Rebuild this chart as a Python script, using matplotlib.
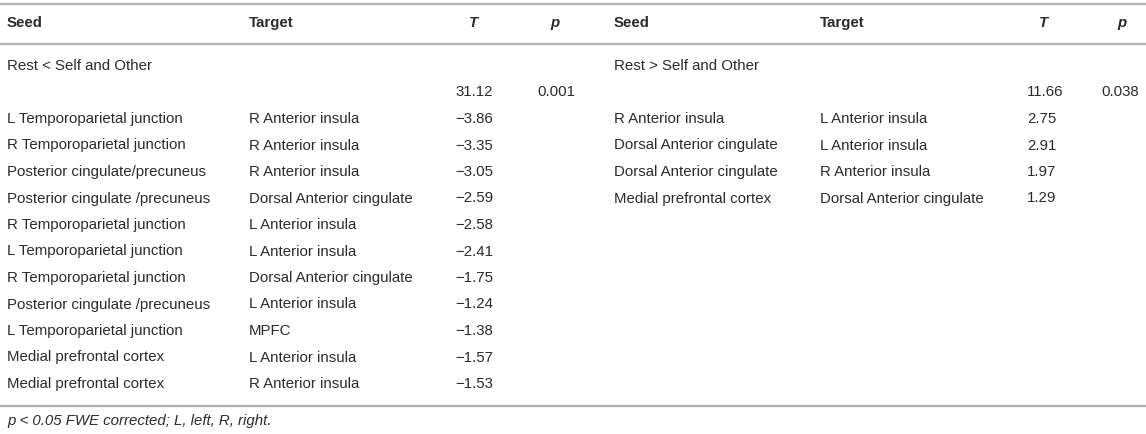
import matplotlib
matplotlib.use("Agg")
import matplotlib.pyplot as plt

plt.rcParams['font.family'] = ['Liberation Sans', 'DejaVu Sans']

# table data
headers = ["Seed", "Target", "T", "p"]

left_title = "Rest < Self and Other"
left_T_all = "31.12"
left_p_all = "0.001"
left_seeds = ["L Temporoparietal junction", "R Temporoparietal junction",
              "Posterior cingulate/precuneus", "Posterior cingulate /precuneus",
              "R Temporoparietal junction", "L Temporoparietal junction",
              "R Temporoparietal junction", "Posterior cingulate /precuneus",
              "L Temporoparietal junction", "Medial prefrontal cortex",
              "Medial prefrontal cortex"]
left_targets = ["R Anterior insula", "R Anterior insula", "R Anterior insula",
                "Dorsal Anterior cingulate", "L Anterior insula", "L Anterior insula",
                "Dorsal Anterior cingulate", "L Anterior insula", "MPFC",
                "L Anterior insula", "R Anterior insula"]
left_T = [-3.86, -3.35, -3.05, -2.59, -2.58, -2.41, -1.75, -1.24, -1.38, -1.57, -1.53]

right_title = "Rest > Self and Other"
right_T_all = "11.66"
right_p_all = "0.038"
right_seeds = ["R Anterior insula", "Dorsal Anterior cingulate",
               "Dorsal Anterior cingulate", "Medial prefrontal cortex"]
right_targets = ["L Anterior insula", "L Anterior insula", "R Anterior insula",
                 "Dorsal Anterior cingulate"]
right_T = [2.75, 2.91, 1.97, 1.29]

footnote = "p < 0.05 FWE corrected; L, left, R, right."

# layout (pixels)
W, H = 1146, 434
txt = "#2b2b2b"
rule = "#b0b0b0"
fs = 10.8
row0, dy = 66, 26.5
left_cols = [7, 249, 455, 537]
right_cols = [614, 820, 1027, 1101]
left_hdr_c = [473, 555]
right_hdr_c = [1043, 1122]

fig = plt.figure(figsize=(W / 100, H / 100), dpi=100)
ax = fig.add_axes([0, 0, 1, 1])
ax.set_xlim(0, W)
ax.set_ylim(H, 0)
ax.axis("off")

for yl in [4, 44, 406]:
    ax.axhline(yl, color=rule, lw=1.6)


def fmt(v):
    return f"{v:.2f}".replace("-", "\u2212")


def draw_side(cols, hdr_c, title, t_all, p_all, seeds, targets, tvals):
    ax.text(cols[0], 23, headers[0], fontsize=fs, fontweight="bold", color=txt, va="center")
    ax.text(cols[1], 23, headers[1], fontsize=fs, fontweight="bold", color=txt, va="center")
    ax.text(hdr_c[0], 23, headers[2], fontsize=fs, fontweight="bold", style="italic",
            color=txt, va="center", ha="center")
    ax.text(hdr_c[1], 23, headers[3], fontsize=fs, fontweight="bold", style="italic",
            color=txt, va="center", ha="center")
    ax.text(cols[0], row0, title, fontsize=fs, color=txt, va="center")
    ax.text(cols[2], row0 + dy, t_all, fontsize=fs, color=txt, va="center")
    ax.text(cols[3], row0 + dy, p_all, fontsize=fs, color=txt, va="center")
    for i, (s, t, v) in enumerate(zip(seeds, targets, tvals)):
        y = row0 + dy * (i + 2)
        ax.text(cols[0], y, s, fontsize=fs, color=txt, va="center")
        ax.text(cols[1], y, t, fontsize=fs, color=txt, va="center")
        ax.text(cols[2], y, fmt(v), fontsize=fs, color=txt, va="center")


draw_side(left_cols, left_hdr_c, left_title, left_T_all, left_p_all,
          left_seeds, left_targets, left_T)
draw_side(right_cols, right_hdr_c, right_title, right_T_all, right_p_all,
          right_seeds, right_targets, right_T)

ax.text(7, 421, footnote, fontsize=fs, style="italic", color=txt, va="center")

fig.savefig("out.png", dpi=100)
